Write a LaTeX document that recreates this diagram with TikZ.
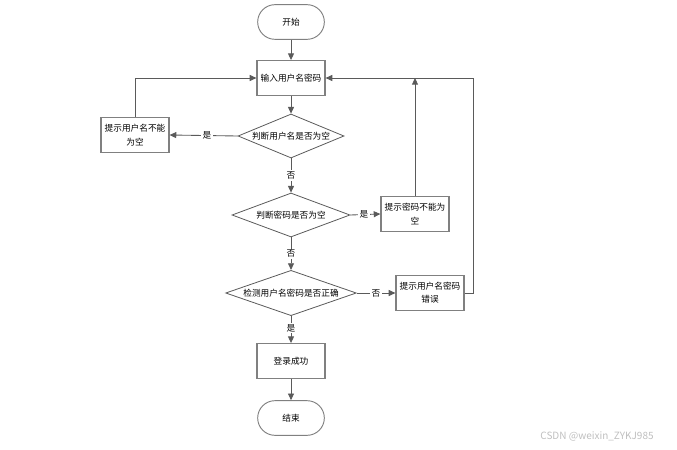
\documentclass[tikz,border=0pt]{standalone}
\usepackage{fontspec}
\newfontfamily\cjk{Noto Sans CJK SC}
\usetikzlibrary{shapes.geometric,arrows.meta}
\definecolor{linegray}{HTML}{5A5A5A}
\definecolor{boxgray}{HTML}{808080}
\begin{document}
\begin{tikzpicture}[x=0.75pt,y=-0.75pt,
  font=\cjk\fontsize{6.5}{10}\selectfont,
  term/.style={draw=boxgray,line width=0.7pt,rounded corners=13pt,minimum width=50pt,minimum height=26pt},
  proc/.style={draw=boxgray,line width=0.9pt,minimum width=51pt,minimum height=26pt,align=center,inner sep=1pt},
  cond/.style={draw=linegray,line width=0.6pt,diamond,shape aspect=2.9,inner sep=0pt,minimum height=33pt},
  flow/.style={draw=linegray,line width=0.65pt,-{Triangle[length=5pt,width=4.5pt]}},
  tag/.style={fill=white,inner sep=1pt}]
\useasboundingbox (0,0) rectangle (677,449);

\node[term] (start) at (291,22) {开始};
\node[proc] (input) at (291,78) {输入用户名密码};
\node[cond,minimum width=79.5pt] (d1) at (291,136) {判断用户名是否为空};
\node[proc] (e1) at (135,135) {提示用户名不能\\为空};
\node[cond,minimum width=88.5pt] (d2) at (291,215) {判断密码是否为空};
\node[proc] (e2) at (415,214) {提示密码不能为\\空};
\node[cond,minimum width=98pt,minimum height=34pt] (d3) at (291,293) {检测用户名密码是否正确};
\node[proc] (e3) at (430,293) {提示用户名密码\\错误};
\node[proc] (ok) at (291,361) {登录成功};
\node[term] (end) at (291,418) {结束};
\coordinate (back) at (473,293);

\path[flow] (start) -- (input);
\path[flow] (input) -- (d1);
\path[flow] (d1.west) -- node[tag,pos=0.45] {是} (e1.east);
\path[flow] (e1.north) |- (input.west);
\path[flow] (d1) -- node[tag] {否} (d2);
\path[flow] (d2.east) -- node[tag,pos=0.45] {是} (e2.west);
\path[flow] (e2.north) -- (e2.north |- input.east);
\path[flow] (d2) -- node[tag] {否} (d3);
\path[flow] (d3.east) -- node[tag] {否} (e3.west);
\path[flow] (e3.east) -- (back) |- (input.east);
\path[flow] (d3) -- node[tag,pos=0.45] {是} (ok);
\path[flow] (ok) -- (end);

\node[text=gray!50,font=\cjk\fontsize{7.5}{9}\selectfont] (mark) at (597,436) {CSDN @weixin\_ZYKJ985};
\end{tikzpicture}
\end{document}
